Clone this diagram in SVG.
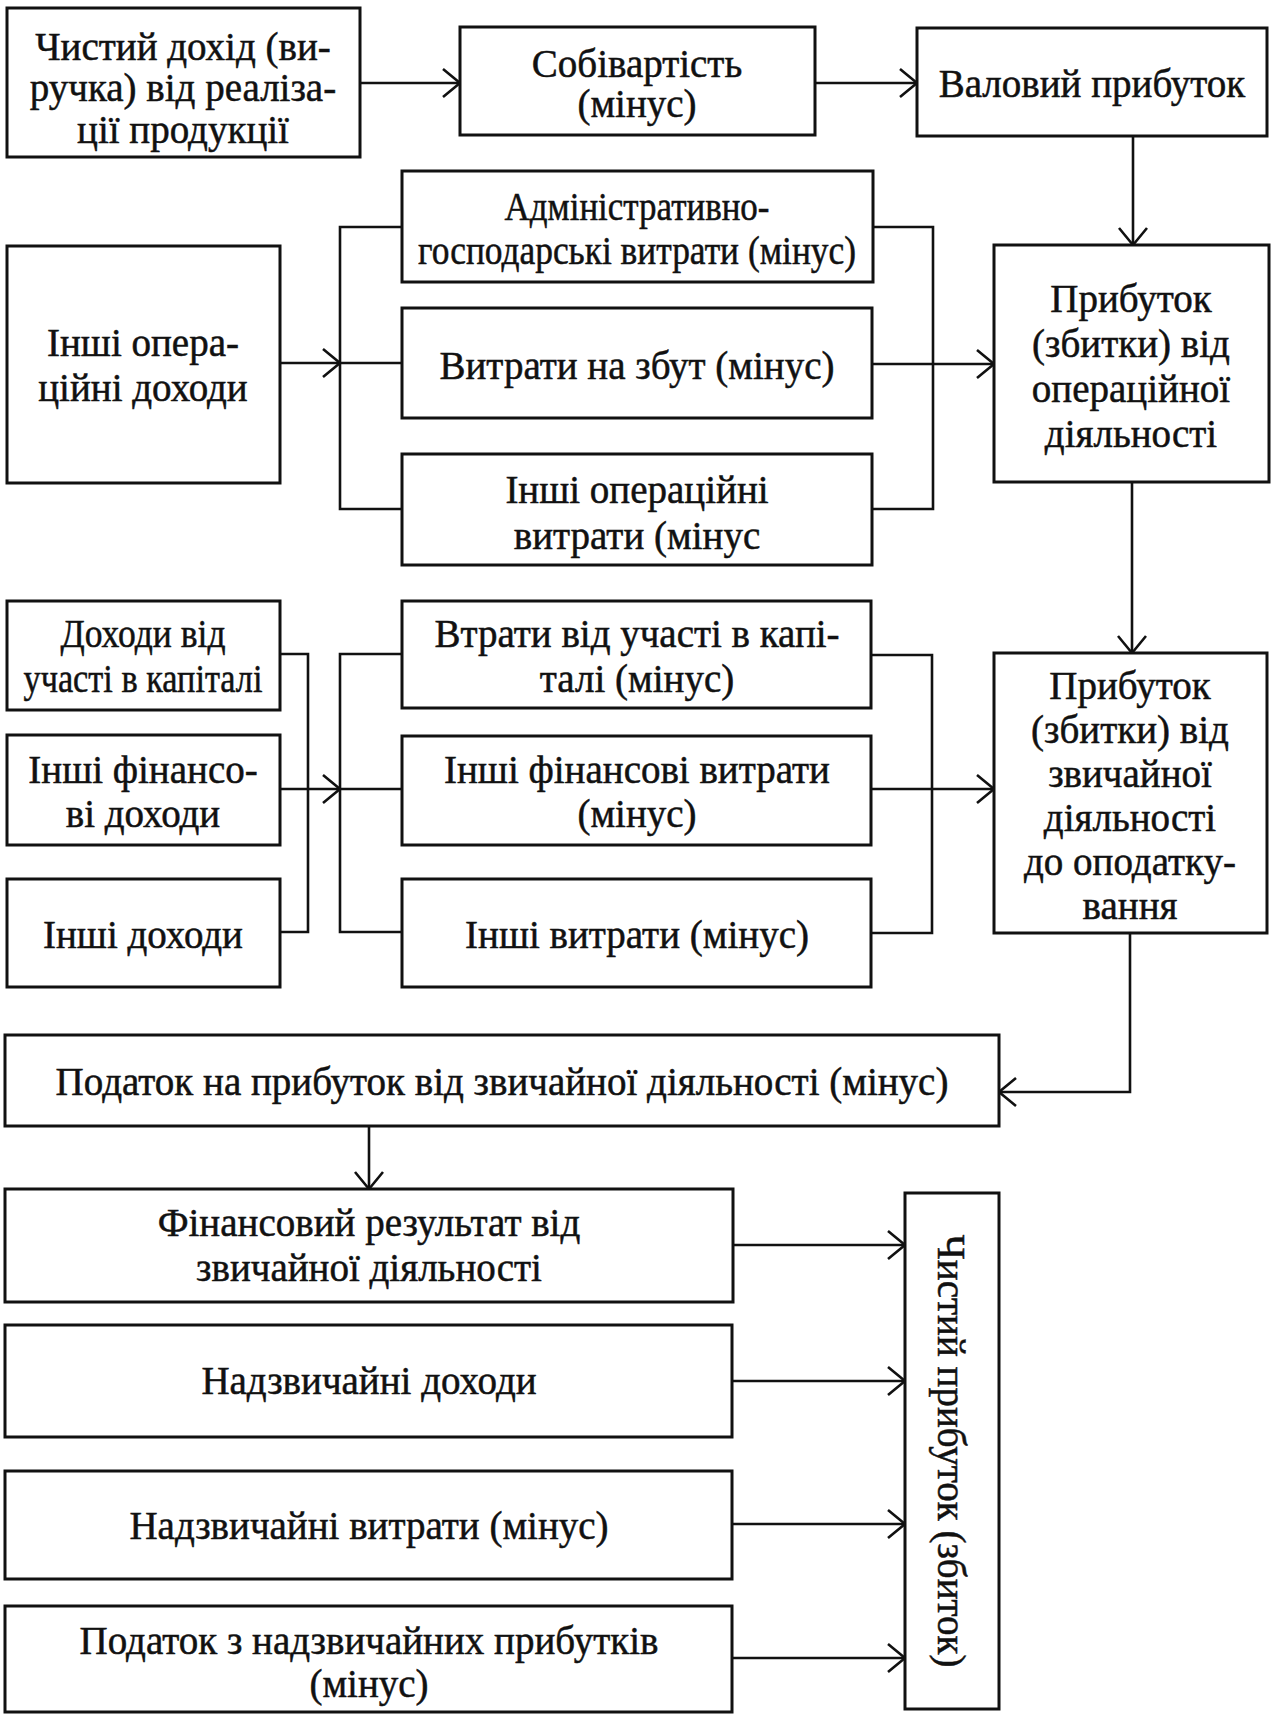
<svg xmlns="http://www.w3.org/2000/svg" width="1277" height="1723" viewBox="0 0 1277 1723">
<defs>
<style>
.b{fill:#fff;stroke:#111;stroke-width:3}
.c{fill:none;stroke:#111;stroke-width:2.6}
.t{font-family:"Liberation Serif","Times New Roman",serif;font-size:39px;fill:#111;stroke:#111;stroke-width:0.5;text-anchor:middle}
</style>
<marker id="a" markerUnits="userSpaceOnUse" markerWidth="40" markerHeight="40" viewBox="-20 -20 40 40" refX="0" refY="0" orient="auto">
<path d="M-17,-14 L0,0 L-17,14" fill="none" stroke="#111" stroke-width="2.6"/>
</marker>
</defs>
<rect width="1277" height="1723" fill="#fff"/>
<g id="connectors">
<line class="c" x1="360" y1="83" x2="460" y2="83" marker-end="url(#a)"/>
<line class="c" x1="815" y1="83" x2="917" y2="83" marker-end="url(#a)"/>
<line class="c" x1="1133" y1="137" x2="1133" y2="245" marker-end="url(#a)"/>
<line class="c" x1="280" y1="363" x2="340" y2="363" marker-end="url(#a)"/>
<path class="c" d="M402,227 H340 V509 H402 M340,363 H402"/>
<path class="c" d="M873,227 H933 V509 H873"/>
<line class="c" x1="873" y1="364" x2="994" y2="364" marker-end="url(#a)"/>
<line class="c" x1="1132" y1="482" x2="1132" y2="653" marker-end="url(#a)"/>
<path class="c" d="M280,654 H308 V932 H280"/>
<line class="c" x1="280" y1="789" x2="340" y2="789" marker-end="url(#a)"/>
<path class="c" d="M402,654 H340 V932 H402 M340,789 H402"/>
<path class="c" d="M871,655 H932 V933 H871"/>
<line class="c" x1="871" y1="789" x2="994" y2="789" marker-end="url(#a)"/>
<polyline class="c" points="1130,933 1130,1092 999,1092" marker-end="url(#a)"/>
<line class="c" x1="369" y1="1126" x2="369" y2="1189" marker-end="url(#a)"/>
<line class="c" x1="733" y1="1245" x2="905" y2="1245" marker-end="url(#a)"/>
<line class="c" x1="732" y1="1381" x2="905" y2="1381" marker-end="url(#a)"/>
<line class="c" x1="732" y1="1524" x2="905" y2="1524" marker-end="url(#a)"/>
<line class="c" x1="732" y1="1658" x2="905" y2="1658" marker-end="url(#a)"/>
</g>
<g id="n1"><rect class="b" x="7" y="8" width="353" height="149"/>
<text class="t" x="183" y="60">Чистий дохід (ви-</text>
<text class="t" x="183" y="101">ручка) від реаліза-</text>
<text class="t" x="183" y="143">ції продукції</text></g>
<g id="n2"><rect class="b" x="460" y="27" width="355" height="108"/>
<text class="t" x="637" y="77">Собівартість</text>
<text class="t" x="637" y="117">(мінус)</text></g>
<g id="n3"><rect class="b" x="917" y="28" width="350" height="108"/>
<text class="t" x="1092" y="97">Валовий прибуток</text></g>
<g id="n4"><rect class="b" x="402" y="171" width="471" height="111"/>
<text class="t" x="637" y="220" textLength="265" lengthAdjust="spacingAndGlyphs">Адміністративно-</text>
<text class="t" x="637" y="264" textLength="438" lengthAdjust="spacingAndGlyphs">господарські витрати (мінус)</text></g>
<g id="n5"><rect class="b" x="402" y="308" width="470" height="110"/>
<text class="t" x="637" y="379">Витрати на збут (мінус)</text></g>
<g id="n6"><rect class="b" x="402" y="454" width="470" height="111"/>
<text class="t" x="637" y="503">Інші операційні</text>
<text class="t" x="637" y="549">витрати (мінус</text></g>
<g id="n7"><rect class="b" x="7" y="246" width="273" height="237"/>
<text class="t" x="143" y="356">Інші опера-</text>
<text class="t" x="143" y="401">ційні доходи</text></g>
<g id="n8"><rect class="b" x="994" y="245" width="275" height="237"/>
<text class="t" x="1131" y="312">Прибуток</text>
<text class="t" x="1131" y="357">(збитки) від</text>
<text class="t" x="1131" y="402">операційної</text>
<text class="t" x="1131" y="447">діяльності</text></g>
<g id="n9"><rect class="b" x="7" y="601" width="273" height="109"/>
<text class="t" x="143" y="647" textLength="165" lengthAdjust="spacingAndGlyphs">Доходи від</text>
<text class="t" x="143" y="692" textLength="239" lengthAdjust="spacingAndGlyphs">участі в капіталі</text></g>
<g id="n10"><rect class="b" x="7" y="735" width="273" height="110"/>
<text class="t" x="143" y="783">Інші фінансо-</text>
<text class="t" x="143" y="827">ві доходи</text></g>
<g id="n11"><rect class="b" x="7" y="879" width="273" height="108"/>
<text class="t" x="143" y="948">Інші доходи</text></g>
<g id="n12"><rect class="b" x="402" y="601" width="469" height="107"/>
<text class="t" x="637" y="647">Втрати від участі в капі-</text>
<text class="t" x="637" y="692">талі (мінус)</text></g>
<g id="n13"><rect class="b" x="402" y="736" width="469" height="109"/>
<text class="t" x="637" y="783">Інші фінансові витрати</text>
<text class="t" x="637" y="827">(мінус)</text></g>
<g id="n14"><rect class="b" x="402" y="879" width="469" height="108"/>
<text class="t" x="637" y="948">Інші витрати (мінус)</text></g>
<g id="n15"><rect class="b" x="994" y="653" width="273" height="280"/>
<text class="t" x="1130" y="699">Прибуток</text>
<text class="t" x="1130" y="743">(збитки) від</text>
<text class="t" x="1130" y="787">звичайної</text>
<text class="t" x="1130" y="831">діяльності</text>
<text class="t" x="1130" y="875">до оподатку-</text>
<text class="t" x="1130" y="919">вання</text></g>
<g id="n16"><rect class="b" x="5" y="1035" width="994" height="91"/>
<text class="t" x="502" y="1095">Податок на прибуток від звичайної діяльності (мінус)</text></g>
<g id="n17"><rect class="b" x="5" y="1189" width="728" height="113"/>
<text class="t" x="369" y="1236">Фінансовий результат від</text>
<text class="t" x="369" y="1281">звичайної діяльності</text></g>
<g id="n18"><rect class="b" x="5" y="1325" width="727" height="112"/>
<text class="t" x="369" y="1394">Надзвичайні доходи</text></g>
<g id="n19"><rect class="b" x="5" y="1471" width="727" height="108"/>
<text class="t" x="369" y="1539">Надзвичайні витрати (мінус)</text></g>
<g id="n20"><rect class="b" x="5" y="1606" width="727" height="106"/>
<text class="t" x="369" y="1654">Податок з надзвичайних прибутків</text>
<text class="t" x="369" y="1697">(мінус)</text></g>
<g id="n21"><rect class="b" x="905" y="1193" width="94" height="516"/>
<text class="t" transform="translate(938,1451) rotate(90)" x="0" y="0">Чистий прибуток (збиток)</text></g>
</svg>
